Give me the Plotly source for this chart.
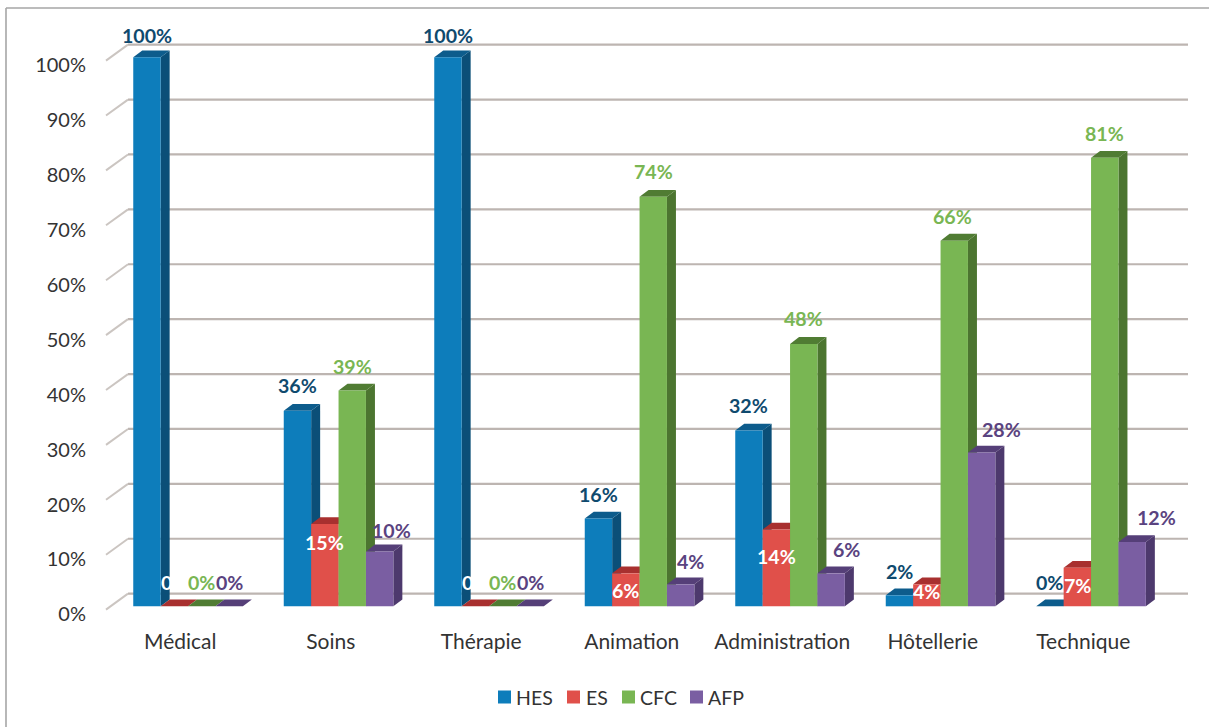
import plotly.graph_objects as go

# ---------- data ----------
categories = ["Médical", "Soins", "Thérapie", "Animation", "Administration", "Hôtellerie", "Technique"]
series_names = ["HES", "ES", "CFC", "AFP"]
hes = [100, 35.6, 100, 16, 32, 2, 0]
es = [0, 15, 0, 6, 14, 4, 7]
cfc = [0, 39.3, 0, 74.6, 47.8, 66.6, 81.7]
afp = [0, 10, 0, 4, 6, 28, 11.7]
hes_labels = ["100%", "36%", "100%", "16%", "32%", "2%", "0%"]
es_labels = ["0%", "15%", "0%", "6%", "14%", "4%", "7%"]
cfc_labels = ["0%", "39%", "0%", "74%", "48%", "66%", "81%"]
afp_labels = ["0%", "10%", "0%", "4%", "6%", "28%", "12%"]
y_ticks = [0, 10, 20, 30, 40, 50, 60, 70, 80, 90, 100]

# ---------- layout constants (pixels in the 1209x727 picture) ----------
W, H = 1209, 727
PL, PR, PT, PB = 105, 1190, 25, 615
CAT_PX = 150.5
UNIT_PX = 5.49
ZERO_PX = 606.3
x_range = [-0.5, -0.5 + (PR - PL) / CAT_PX]
y_range = [(ZERO_PX - PB) / UNIT_PX, (ZERO_PX - PT) / UNIT_PX]
BAR_W = 27.4 / CAT_PX
GROUP_SHIFT = 7.8 / CAT_PX
DX = 9 / CAT_PX
DY = 6.8 / UNIT_PX
FONT = "Lato"

values = [hes, es, cfc, afp]
labels = [hes_labels, es_labels, cfc_labels, afp_labels]
front = ["#0d7dbb", "#e0504a", "#79b653", "#7a5ea2"]
side = ["#0b4f78", "#a93431", "#4c7530", "#4d396d"]
top = ["#0d5c8c", "#a8302f", "#507c33", "#553f78"]
label_col = ["#0f4a6e", "#ffffff", "#79b653", "#5a4380"]

# label nudges in px relative to the bar's front top centre (style table, not data)
nudge_x = [
    [0, 0, 0, 0, 0, 0, 0],
    [0, 0, 0, 0, 0, 0, 0],
    [0, 0, 0, 0, 0, -2, 0],
    [0, 12, 0, 10, 15, 20, 24],
]
nudge_y = [
    [22, 25, 22, 24, 25, 24, 24],
    [24, -19, 24, -17, -27, -7, -18],
    [24, 24, 24, 25, 25, 24, 24],
    [24, 21, 24, 23, 24, 23, 25],
]

# legend geometry (px): swatch left edges and label left edges
legend_swatch_px = [498, 567, 622, 690]
legend_text_px = [516, 586, 640, 708]
LEGEND_Y = 697
SWATCH = 13


def px_x(px):
    return x_range[0] + (px - PL) / CAT_PX


def paper_x(px):
    return (px - PL) / (PR - PL)


def paper_y(px):
    return (PB - px) / (PB - PT)


def bar_left(i, s):
    return i + GROUP_SHIFT + (s - 2) * BAR_W


shapes = []

# frame: only the top and left edges are visible in the picture
shapes.append(dict(type="line", xref="paper", yref="paper", layer="below",
                   x0=paper_x(6), x1=paper_x(W), y0=paper_y(8), y1=paper_y(8),
                   line=dict(color="#a6a6a6", width=1.6)))
shapes.append(dict(type="line", xref="paper", yref="paper", layer="below",
                   x0=paper_x(6), x1=paper_x(6), y0=paper_y(8), y1=paper_y(H),
                   line=dict(color="#a6a6a6", width=1.6)))

# back wall gridlines and their left diagonals
for t in y_ticks:
    yb = t + 2.3
    shapes.append(dict(type="line", xref="x", yref="y", x0=px_x(128), x1=px_x(1188), y0=yb, y1=yb,
                       line=dict(color="#bdb5b1", width=2.2), layer="below"))
    shapes.append(dict(type="line", xref="x", yref="y", x0=px_x(106), x1=px_x(128), y0=t - 0.6, y1=yb,
                       line=dict(color="#cbc5c1", width=2), layer="below"))

# depth faces, computed from the values; the fronts are bar traces on top
for s, vals in enumerate(values):
    for i, v in enumerate(vals):
        x0 = bar_left(i, s)
        x1 = x0 + BAR_W
        shapes.append(dict(type="path", xref="x", yref="y", layer="below",
                           path=f"M {x1} 0 L {x1 + DX} {DY} L {x1 + DX} {v + DY} L {x1} {v} Z",
                           fillcolor=side[s], line=dict(width=0)))
        shapes.append(dict(type="path", xref="x", yref="y", layer="below",
                           path=f"M {x0} {v} L {x0 + DX} {v + DY} L {x1 + DX} {v + DY} L {x1} {v} Z",
                           fillcolor=top[s], line=dict(width=0)))

fig = go.Figure()
xs = list(range(len(categories)))
for s, name in enumerate(series_names):
    fig.add_trace(go.Bar(
        name=name,
        x=[x + GROUP_SHIFT for x in xs],
        y=values[s],
        marker=dict(color=front[s], line=dict(width=0)),
        hoverinfo="name+y",
    ))

annotations = []
for s in range(4):
    for i, v in enumerate(values[s]):
        annotations.append(dict(
            x=bar_left(i, s) + BAR_W / 2, y=v, xref="x", yref="y",
            text=f"<b>{labels[s][i]}</b>", showarrow=False,
            xanchor="center", yanchor="middle",
            xshift=nudge_x[s][i], yshift=nudge_y[s][i],
            font=dict(family=FONT, size=19.6, color=label_col[s]),
        ))

# compact legend with the reference's tight swatch-to-text spacing
for s, name in enumerate(series_names):
    shapes.append(dict(type="rect", xref="paper", yref="paper", layer="above",
                       x0=paper_x(legend_swatch_px[s]), x1=paper_x(legend_swatch_px[s] + SWATCH),
                       y0=paper_y(LEGEND_Y + SWATCH / 2), y1=paper_y(LEGEND_Y - SWATCH / 2),
                       fillcolor=front[s], line=dict(width=0)))
    annotations.append(dict(x=paper_x(legend_text_px[s]), y=paper_y(LEGEND_Y), xref="paper", yref="paper",
                            text=name, showarrow=False, xanchor="left", yanchor="middle",
                            xshift=-2,
                            font=dict(family=FONT, size=19.5, color="#333333")))

fig.update_layout(
    width=W, height=H, autosize=False,
    margin=dict(l=PL, r=W - PR, t=PT, b=H - PB, pad=0),
    paper_bgcolor="white", plot_bgcolor="rgba(0,0,0,0)",
    barmode="group", bargap=1 - 4 * BAR_W, bargroupgap=0,
    shapes=shapes, annotations=annotations,
    font=dict(family=FONT, size=20, color="#333333"),
    showlegend=False,
    xaxis=dict(range=x_range, tickvals=xs, ticktext=categories, showgrid=False, zeroline=False,
               showline=False, ticks="", ticklabelstandoff=12,
               tickfont=dict(family=FONT, size=21, color="#333333")),
    yaxis=dict(range=y_range, tickvals=y_ticks, ticktext=[f"{t}%" for t in y_ticks],
               showgrid=False, zeroline=False, showline=False, ticks="",
               ticklabelstandoff=18, ticklabelshift=8,
               tickfont=dict(family=FONT, size=20, color="#333333")),
)

fig.write_html("out.html", config={"displayModeBar": False},
               post_script="document.body.style.margin='0';")
